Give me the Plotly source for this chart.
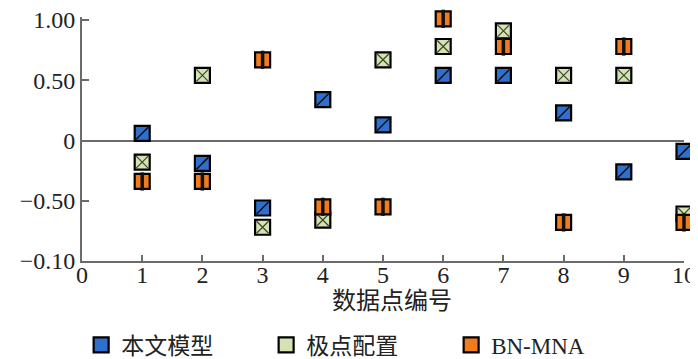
import plotly.graph_objects as go

x_points = [1, 2, 3, 4, 5, 6, 7, 8, 9, 10]
model_vals = [0.06, -0.19, -0.56, 0.34, 0.13, 0.54, 0.54, 0.23, -0.26, -0.09]
pole_vals = [-0.18, 0.54, -0.72, -0.66, 0.67, 0.78, 0.91, 0.54, 0.54, -0.61]
bn_vals = [-0.34, -0.34, 0.67, -0.55, -0.55, 1.01, 0.78, -0.68, 0.78, -0.68]
y_tickvals = [-1.0, -0.5, 0, 0.5, 1.0]
y_ticktext = ["\u22120.10", "\u22120.50", "0", "0.50", "1.00"]
x_tickvals = [0, 1, 2, 3, 4, 5, 6, 7, 8, 9, 10]

series = [
    ("本文模型", model_vals, "#2f6fce", "line-ne", "#111111", 1.5, 12),
    ("极点配置", pole_vals, "#d5e2b3", "x-thin", "#3a4a2a", 1.2, 12),
    ("BN-MNA", bn_vals, "#f07c1c", "line-ns", "#111111", 3.5, 13),
]

FONT = "Liberation Serif, Noto Sans CJK SC"

fig = go.Figure()
for name, vals, color, sym, pcol, pw, psz in series:
    fig.add_trace(go.Scatter(
        x=x_points, y=vals, mode="markers", name=name,
        marker=dict(symbol="square", size=15, color=color,
                    line=dict(color="#000000", width=2.2)),
        cliponaxis=False,
    ))
    fig.add_trace(go.Scatter(
        x=x_points, y=vals, mode="markers", showlegend=False, hoverinfo="skip",
        marker=dict(symbol=sym, size=psz, color=pcol,
                    line=dict(color=pcol, width=pw)),
        cliponaxis=False,
    ))

axis_color = "#6b6b6b"
fig.update_layout(
    width=690, height=351,
    margin=dict(l=74, r=14, t=9, b=98),
    paper_bgcolor="white", plot_bgcolor="white",
    font=dict(family=FONT, size=24, color="#222222"),
    showlegend=True,
    legend=dict(orientation="h", xref="container", x=0.106, xanchor="left",
                yref="container", y=0.04, yanchor="middle",
                entrywidth=140, entrywidthmode="pixels", itemwidth=30,
                font=dict(family=FONT, size=23)),
    xaxis=dict(range=[0, 10], tickvals=x_tickvals, ticks="inside", ticklen=6,
               tickwidth=1.5, tickcolor=axis_color, showline=True, linecolor=axis_color,
               linewidth=2, showgrid=False, zeroline=False, automargin=False,
               ticklabeloverflow="allow", ticklabelstandoff=-9),
    yaxis=dict(range=[-1, 1.025], tickvals=y_tickvals, ticktext=y_ticktext, ticks="inside",
               ticklen=7, tickwidth=1.5, tickcolor=axis_color, showline=True,
               linecolor=axis_color, linewidth=2, showgrid=False, zeroline=True,
               zerolinecolor=axis_color, zerolinewidth=2, automargin=False,
               ticklabeloverflow="allow"),
    annotations=[dict(text="数据点编号", xref="paper", yref="paper", x=0.515, y=-0.165,
                      xanchor="center", yanchor="middle", showarrow=False,
                      font=dict(family=FONT, size=24, color="#222222"))],
)
fig.write_html("out.html")
